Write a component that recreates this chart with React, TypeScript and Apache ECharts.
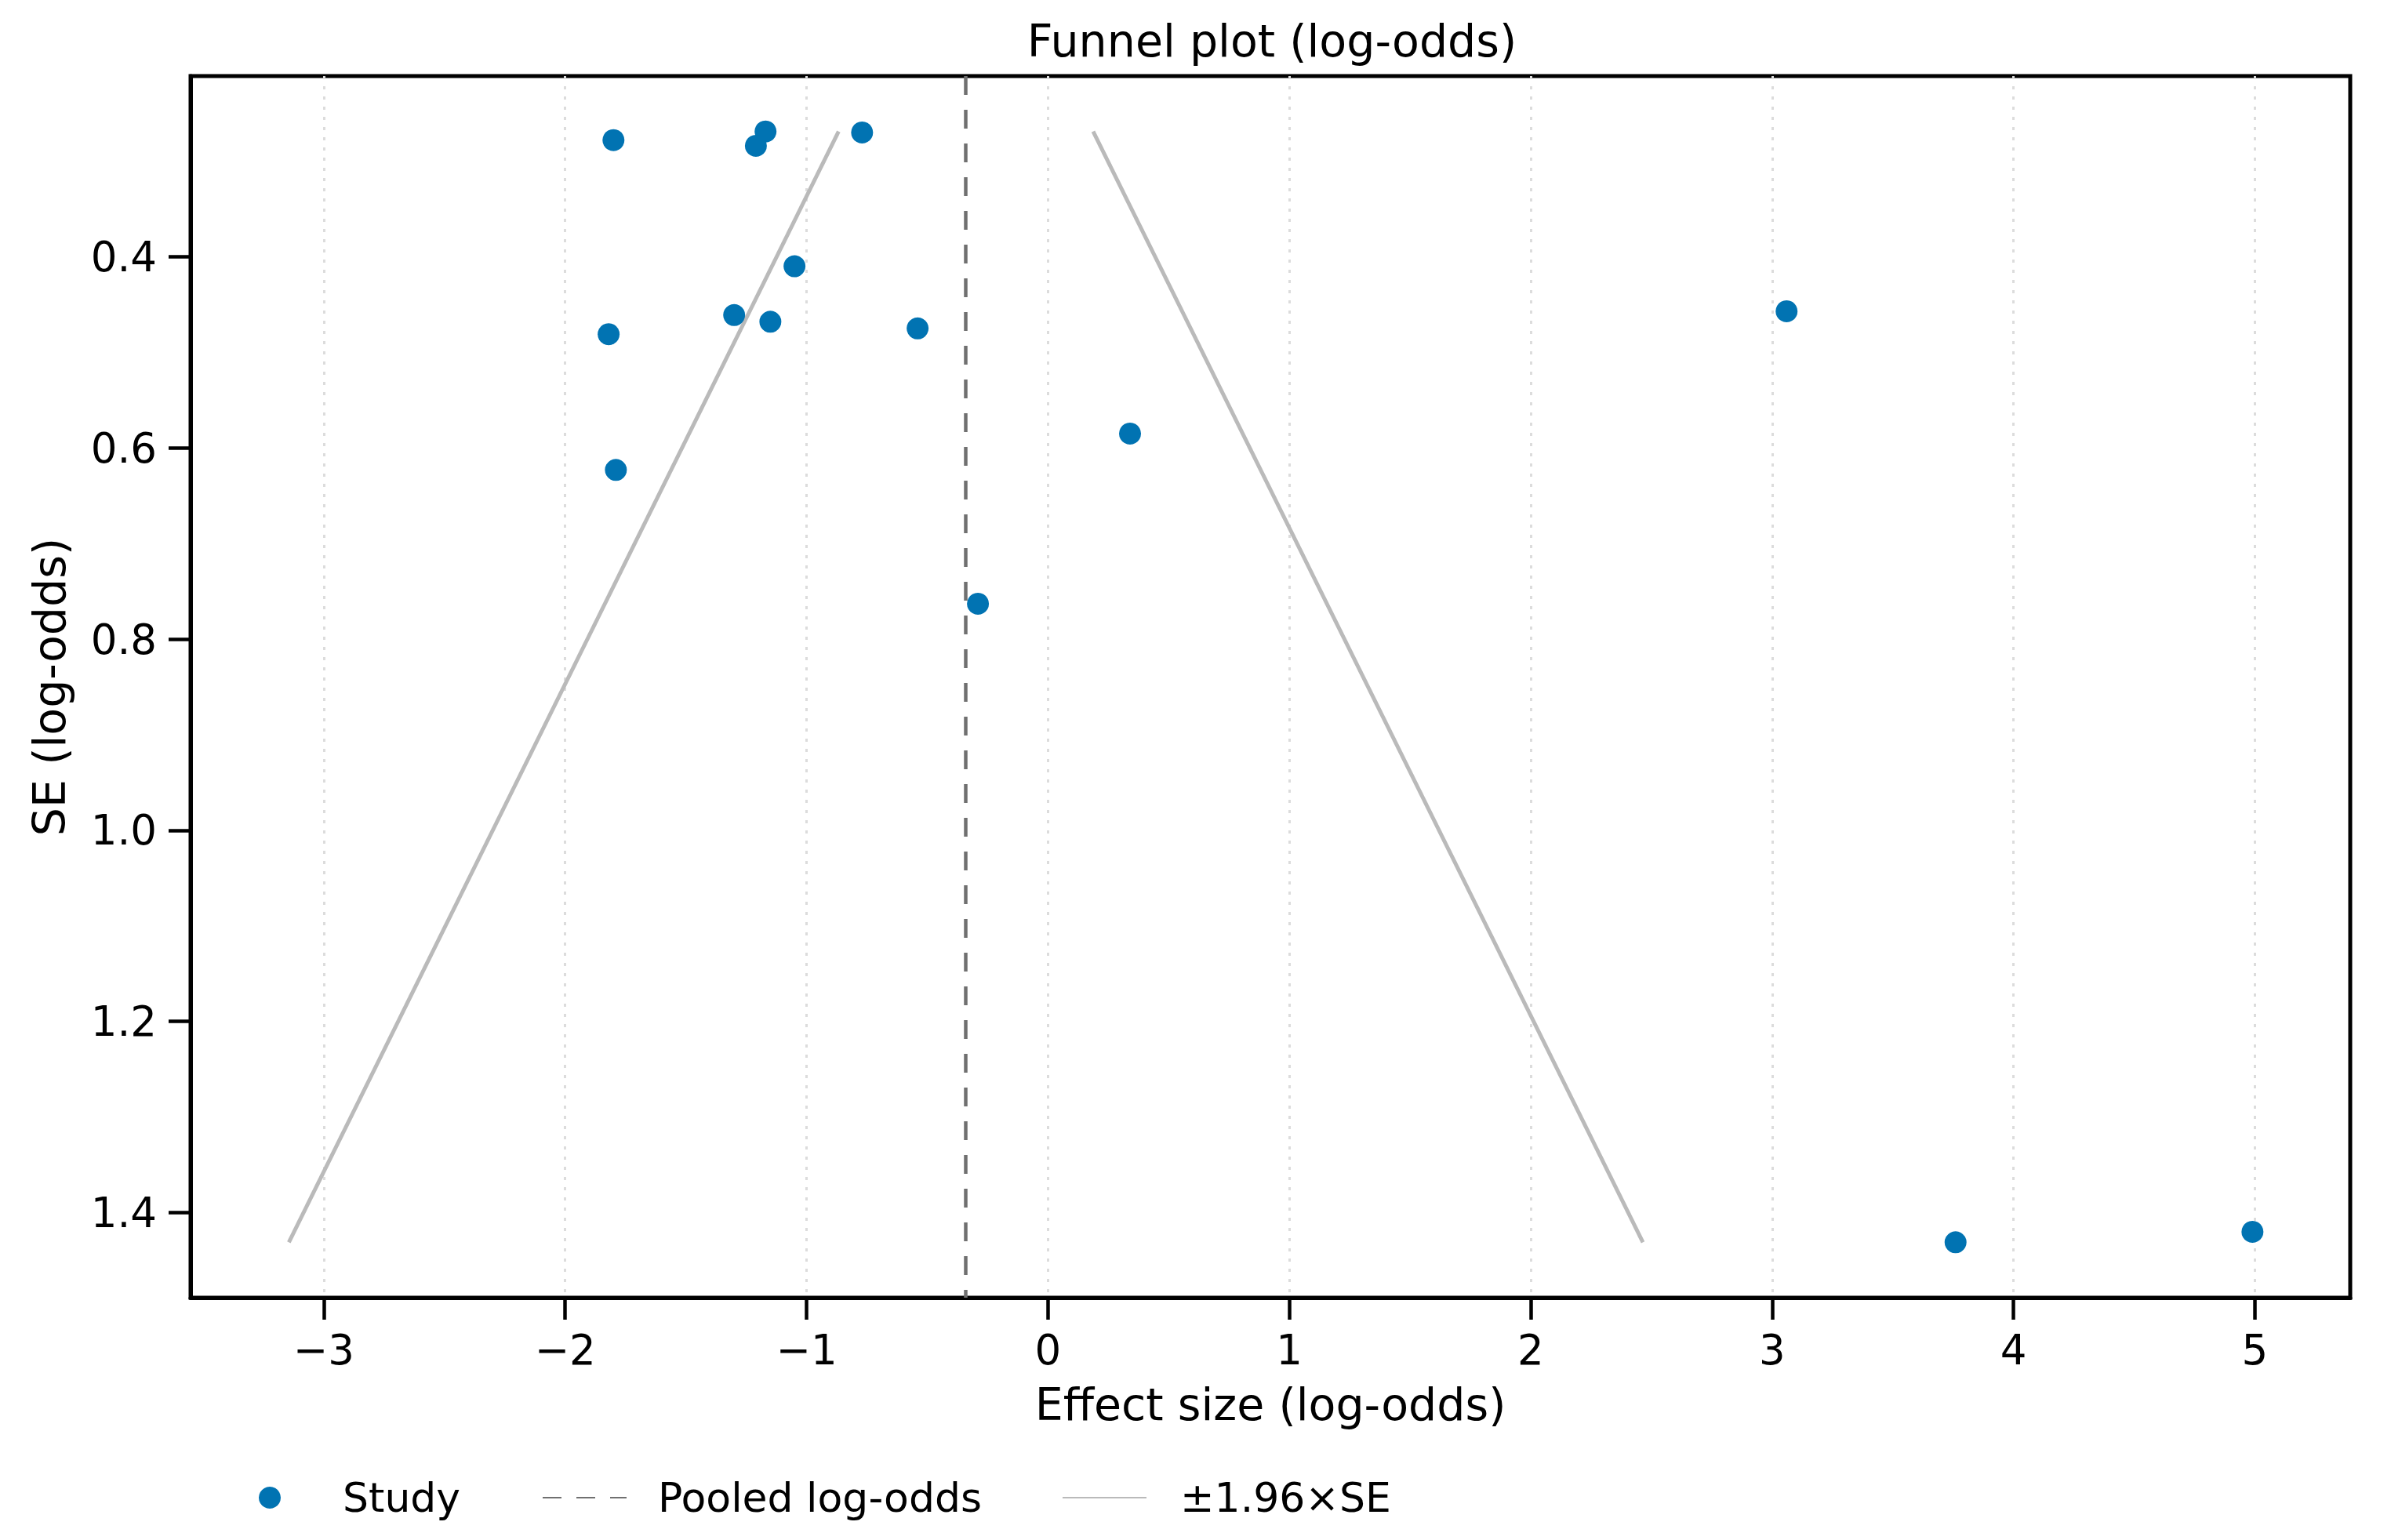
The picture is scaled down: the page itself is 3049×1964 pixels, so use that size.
import React, { useEffect, useRef } from "react";
import * as echarts from "echarts";

// ---- Data ----
const studyEffect = [-1.80, -1.17, -1.21, -0.77, -1.05, -1.30, -1.15, -1.82, -0.54, 3.06, 0.34, -1.79, -0.29, 3.76, 4.99];
const studySE = [0.278, 0.269, 0.284, 0.270, 0.410, 0.461, 0.468, 0.481, 0.475, 0.457, 0.585, 0.623, 0.763, 1.431, 1.420];
const pooledEffect = -0.34;
const funnelSE = [0.269, 1.431];
const funnelZ = 1.96;
const xTicks = [-3, -2, -1, 0, 1, 2, 3, 4, 5];
const yTicks = [0.4, 0.6, 0.8, 1.0, 1.2, 1.4];
const xRange = [-3.552, 5.395];
const yRange = [0.211, 1.489];
const seriesNames = ["Study", "Pooled log-odds", "±1.96×SE"];
const titleText = "Funnel plot (log-odds)";
const xLabel = "Effect size (log-odds)";
const yLabel = "SE (log-odds)";

const FONT = "DejaVu Sans";

export default function App() {
  const ref = useRef<HTMLDivElement>(null);

  useEffect(() => {
    if (!ref.current) return;
    const chart = echarts.init(ref.current, null, { renderer: "svg" });

    const studyData = studyEffect.map((x, i) => [x, studySE[i]]);
    const leftFunnel = funnelSE.map((se) => [pooledEffect - funnelZ * se, se]);
    const rightFunnel = funnelSE.map((se) => [pooledEffect + funnelZ * se, se]);

    const funnelLine = { color: "#bababa", width: 5 };
    const pooledLine = { color: "#707070", width: 4.5, type: [24, 19] as any };
    const STUDY_COLOR = "#0173b2";

    const legendText = (pad: number) => ({
      fontFamily: FONT,
      fontSize: 52,
      color: "#000",
      rich: {
        t: { fontFamily: FONT, fontSize: 52, color: "#000", padding: [0, 0, 0, pad] },
      },
    });
    const hiddenSymbol = {
      color: "rgba(0,0,0,0)",
      borderColor: "rgba(0,0,0,0)",
      borderWidth: 0,
      opacity: 0,
    };
    const legendTop = 1879;

    const option: any = {
      animation: false,
      backgroundColor: "#ffffff",
      title: {
        text: titleText,
        left: 1617,
        top: 47,
        textAlign: "center",
        textVerticalAlign: "middle",
        textStyle: { fontFamily: FONT, fontSize: 57, fontWeight: "normal", color: "#000" },
      },
      grid: {
        left: 243,
        right: 52,
        top: 97,
        bottom: 309,
        show: true,
        borderColor: "#000",
        borderWidth: 5,
        backgroundColor: "transparent",
      },
      legend: [
        {
          data: [{ name: seriesNames[0] }],
          left: 325,
          top: legendTop,
          itemWidth: 28,
          itemHeight: 28,
          selectedMode: false,
          formatter: "{t|{name}}",
          textStyle: legendText(74),
        },
        {
          data: [{ name: seriesNames[1], itemStyle: hiddenSymbol }],
          left: 686,
          top: legendTop,
          itemWidth: 107,
          itemHeight: 28,
          selectedMode: false,
          formatter: "{t|{name}}",
          textStyle: legendText(35),
        },
        {
          data: [{ name: seriesNames[2], itemStyle: hiddenSymbol }],
          left: 1349,
          top: legendTop,
          itemWidth: 107,
          itemHeight: 28,
          selectedMode: false,
          formatter: "{t|{name}}",
          textStyle: legendText(38),
        },
      ],
      xAxis: {
        type: "value",
        min: xRange[0],
        max: xRange[1],
        name: xLabel,
        nameLocation: "middle",
        nameGap: 107,
        nameTextStyle: { fontFamily: FONT, fontSize: 57, color: "#000" },
        axisLine: { show: true, onZero: false, lineStyle: { color: "#000", width: 5 } },
        axisTick: { show: true, length: 28, customValues: xTicks, lineStyle: { color: "#000", width: 4.5 } },
        axisLabel: {
          customValues: xTicks,
          formatter: (v: number) => String(Math.round(v)).replace("-", "\u2212"),
          fontFamily: FONT,
          fontSize: 53,
          color: "#000",
          margin: 40,
        },
        splitLine: { show: false },
      },
      yAxis: {
        type: "value",
        inverse: true,
        min: yRange[0],
        max: yRange[1],
        name: yLabel,
        nameLocation: "middle",
        nameRotate: 90,
        nameGap: 152,
        nameTextStyle: { fontFamily: FONT, fontSize: 57, color: "#000" },
        axisLine: { show: true, onZero: false, lineStyle: { color: "#000", width: 5 } },
        axisTick: { show: true, length: 28, customValues: yTicks, lineStyle: { color: "#000", width: 4.5 } },
        axisLabel: {
          customValues: yTicks,
          formatter: (v: number) => v.toFixed(1),
          fontFamily: FONT,
          fontSize: 53,
          color: "#000",
          margin: 43,
        },
        splitLine: { show: false },
      },
      series: [
        {
          name: "__grid",
          type: "line",
          data: [],
          silent: true,
          z: 1,
          markLine: {
            silent: true,
            symbol: "none",
            z: 1,
            label: { show: false },
            lineStyle: { color: "#dcdcdc", width: 3, type: [4, 9] },
            data: xTicks.map((v) => ({ xAxis: v })),
          },
        },
        {
          name: seriesNames[1],
          type: "line",
          data: [],
          symbol: "none",
          z: 3,
          lineStyle: pooledLine,
          itemStyle: { color: pooledLine.color },
          markLine: {
            silent: true,
            symbol: "none",
            z: 3,
            label: { show: false },
            lineStyle: pooledLine,
            data: [{ xAxis: pooledEffect }],
          },
        },
        {
          name: seriesNames[2],
          type: "line",
          data: leftFunnel,
          symbol: "none",
          z: 4,
          silent: true,
          lineStyle: funnelLine,
          itemStyle: { color: funnelLine.color },
        },
        {
          name: seriesNames[2],
          type: "line",
          data: rightFunnel,
          symbol: "none",
          z: 4,
          silent: true,
          lineStyle: funnelLine,
          itemStyle: { color: funnelLine.color },
        },
        {
          name: seriesNames[0],
          type: "scatter",
          data: studyData,
          symbol: "circle",
          symbolSize: 28,
          z: 10,
          itemStyle: { color: STUDY_COLOR, opacity: 1 },
        },
      ],
    };

    chart.setOption(option);
    return () => chart.dispose();
  }, []);

  return (
    <div
      ref={ref}
      style={{ position: "fixed", left: 0, top: 0, width: 3049, height: 1964, background: "#fff" }}
    />
  );
}
